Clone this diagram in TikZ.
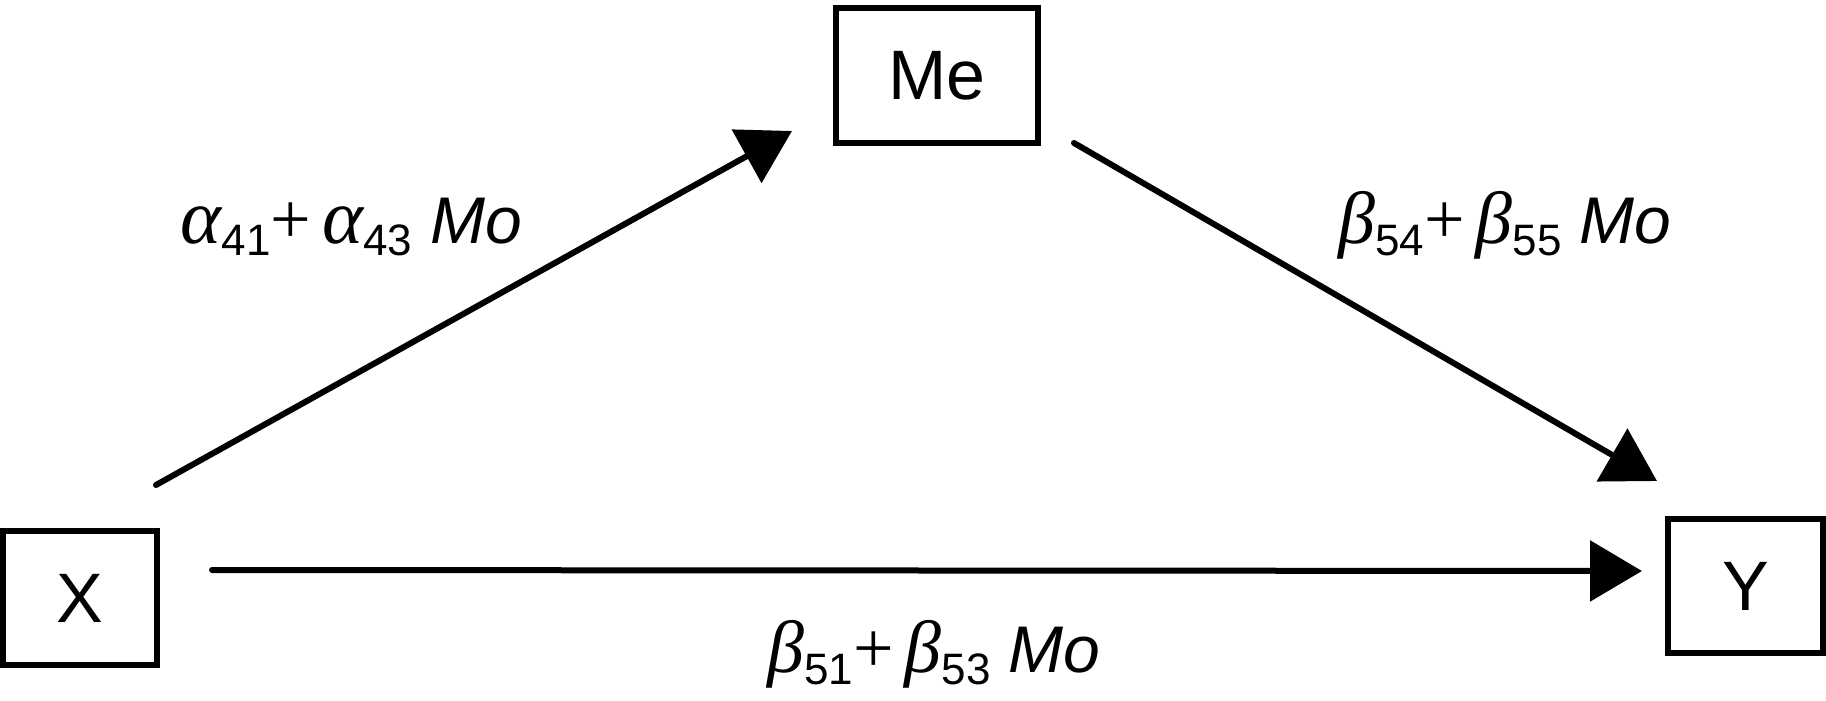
\documentclass[tikz,border=0pt]{standalone}
\usepackage{fontspec}
\setmainfont{Liberation Sans}
\newfontfamily\grk{Liberation Serif}
\usetikzlibrary{arrows.meta,calc}
\newcommand\sbx[1]{\raisebox{-12pt}{\fontsize{44}{48}\selectfont #1}}
\newcommand\ga{{\grk\itshape\fontsize{78}{80}\selectfont α}}
\newcommand\gb{{\grk\itshape\fontsize{74}{80}\selectfont β}}
\newcommand\pl{{\grk\fontsize{72}{80}\selectfont +}}
\begin{document}
\begin{tikzpicture}[x=1pt,y=-1pt,
  box/.style={draw, line width=6pt, inner sep=0pt, outer sep=0pt, font=\fontsize{70}{80}\selectfont},
  conn/.style={line width=6pt, line cap=round, -{Triangle[length=52pt,width=60pt]}},
  lab/.style={inner sep=0pt, anchor=base, font=\fontsize{66}{72}\selectfont}]
\useasboundingbox (0,0) rectangle (1826,701);
\node[box, minimum width=154pt, minimum height=134pt] (X) at (80,598) {X};
\node[box, minimum width=202pt, minimum height=135pt] (Me) at (937,75.5) {Me};
\node[box, minimum width=155pt, minimum height=134pt] (Y) at (1745.5,586) {Y};
\draw[conn] ($(X.north east)+(-1,-46)$) -- ($(Me.south west)+(-44,-12)$);
\draw[conn] ($(Me.south east)+(36,0)$) -- ($(Y.north west)+(-11,-38)$);
\draw[conn] ($(X.east)+(55,-28)$) -- ($(Y.west)+(-26,-15)$);
\node[lab] (la) at (351.5,243) {\ga\sbx{41}\pl\,\ga\sbx{43} \textit{Mo}};
\node[lab] (lb) at (1505,243) {\gb\sbx{54}\pl\,\gb\sbx{55} \textit{Mo}};
\node[lab] (lc) at (934,672) {\gb\sbx{51}\pl\,\gb\sbx{53} \textit{Mo}};
\end{tikzpicture}
\end{document}
